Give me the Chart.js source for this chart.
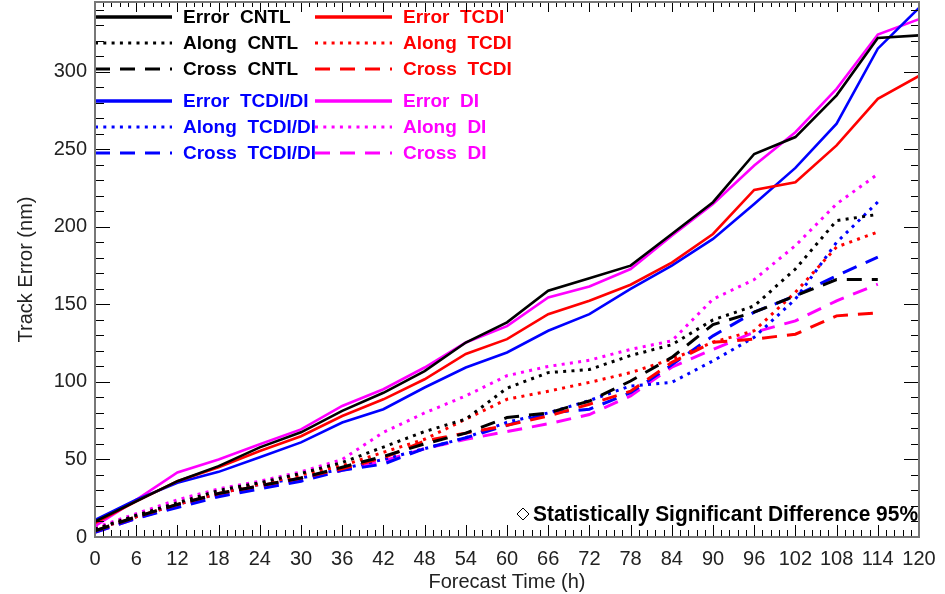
<!DOCTYPE html>
<html>
<head>
<meta charset="utf-8">
<script src="https://cdn.jsdelivr.net/npm/chart.js@4.4.0/dist/chart.umd.min.js"></script>
<style>
  html, body { margin: 0; padding: 0; background: #fff; }
  #wrap { width: 945px; height: 594px; }
</style>
</head>
<body>
<div id="wrap"><canvas id="trackChart" width="945" height="594"></canvas></div>
<script>
// forecast hours (h)
const hours = [0, 6, 12, 18, 24, 30, 36, 42, 48, 54, 60, 66, 72, 78, 84, 90, 96, 102, 108, 114, 120];

// track error (nm), 0-120 h
const errorCNTL   = [10, 23, 36, 45.7, 57.8, 67.5, 81.3, 93, 107, 125.4, 138.4, 158.8, 166.8, 175, 195.4, 215.9, 247, 257.9, 284.8, 321.8, 323.5];
const errorTCDI   = [9, 23, 36, 45, 55.4, 65, 78, 88.8, 101.7, 118, 127.6, 143.7, 152.3, 162.7, 177, 195.4, 223.8, 228.8, 252.5, 282.6, 297.3];
const errorTCDIDI = [11, 24, 35, 42, 51.4, 61, 73.8, 82.4, 96.4, 109.3, 119, 133, 143.7, 160, 175, 192.2, 214.8, 238, 266.5, 314.9, 341.2];
const errorDI     = [7, 24, 41.6, 50, 59.8, 69.4, 84.5, 95.3, 109.3, 125.4, 136, 154.5, 161.6, 172.8, 194.3, 214.8, 239.5, 261, 289, 324, 333.9];

// along-track error (nm), 0-114 h
const alongCNTL   = [5, 14, 22, 30, 35, 41, 48, 58, 68, 76, 96, 106, 108, 117, 124, 140, 149, 172.8, 204, 208];
const alongTCDI   = [5, 13, 21, 28, 34, 40, 46, 54.6, 63, 76, 88.8, 94, 99.7, 106, 114.7, 125.6, 133, 157.8, 187, 196.7];
const alongTCDIDI = [5, 13, 21, 28, 34, 38, 44, 50, 57, 64, 74, 80, 88, 97.4, 99.7, 113.6, 128.8, 153.4, 190, 216];
const alongDI     = [6, 15, 24, 31, 36, 42, 50, 67.5, 80, 91, 104, 110, 114, 121, 126.5, 153.4, 166, 187.9, 214.8, 234];

// cross-track error (nm), 0-114 h
const crossCNTL   = [4, 13, 21, 28, 33, 38, 45, 52, 60, 67, 77, 80, 87.7, 100.6, 115.8, 137, 145, 155.5, 166, 166];
const crossTCDI   = [4, 13, 21, 28, 33, 38, 44, 51, 62, 67, 72, 78, 85.6, 94, 112.6, 125.6, 127.6, 130.8, 142.6, 144.6];
const crossTCDIDI = [3, 12, 19, 26, 31, 36, 43, 47, 57, 64, 72, 80, 82.4, 93, 111, 129.7, 145, 155.5, 168.5, 180.5];
const crossDI     = [3, 12, 20, 27, 32, 37, 43, 49, 57, 63, 68, 73, 79, 91, 109.5, 121, 132, 139.4, 152.3, 163];

const seriesLabels = [
    'Error CNTL', 'Along CNTL', 'Cross CNTL',
    'Error TCDI', 'Along TCDI', 'Cross TCDI',
    'Error TCDI/DI', 'Along TCDI/DI', 'Cross TCDI/DI',
    'Error DI', 'Along DI', 'Cross DI'
];
const seriesValues = [
    errorCNTL, alongCNTL, crossCNTL,
    errorTCDI, alongTCDI, crossTCDI,
    errorTCDIDI, alongTCDIDI, crossTCDIDI,
    errorDI, alongDI, crossDI
];
const noteText = 'Statistically Significant Difference 95%';

const colors = ['#000000', '#ff0000', '#0000ff', '#ff00ff'];
const dashes = [[], [3, 5.3], [15, 10]];

function toPoints(values) {
    return values.map((v, i) => ({ x: hours[i], y: v }));
}

const datasets = seriesValues.map((values, i) => ({
    label: seriesLabels[i],
    data: toPoints(values),
    borderColor: colors[Math.floor(i / 3)],
    borderDash: dashes[i % 3],
    borderWidth: i % 3 === 0 ? 2.6 : 3,
    pointRadius: 0,
    tension: 0,
    fill: false
}));

// box with inward ticks on all four sides (IDL style)
function drawFrame(chart) {
    const ctx = chart.ctx;
    const area = chart.chartArea;
    const xs = chart.scales.x;
    const ys = chart.scales.y;
    ctx.save();
    ctx.setLineDash([]);
    ctx.strokeStyle = '#000';
    ctx.lineWidth = 1;
    ctx.beginPath();
    for (let i = 0; i <= 100; i++) {
        const px = Math.round(xs.getPixelForValue(i * 1.2)) + 0.5;
        const major = i % 5 === 0;
        ctx.moveTo(px, area.bottom);
        ctx.lineTo(px, area.bottom - (major ? 12 : 7));
        ctx.moveTo(px, area.top);
        ctx.lineTo(px, area.top + (major ? 10 : 5));
    }
    for (let v = 0; v <= ys.max; v += 10) {
        const py = Math.round(ys.getPixelForValue(v)) + 0.5;
        const major = v % 50 === 0;
        ctx.moveTo(area.left, py);
        ctx.lineTo(area.left + (major ? 15 : 9), py);
        ctx.moveTo(area.right, py);
        ctx.lineTo(area.right - (major ? 15 : 8), py);
    }
    ctx.stroke();
    ctx.strokeStyle = '#777';
    ctx.lineWidth = 2;
    ctx.strokeRect(area.left, area.top, area.right - area.left, area.bottom - area.top);
    ctx.restore();
}

function drawLegend(chart) {
    const ctx = chart.ctx;
    ctx.save();
    ctx.font = 'bold 19px "Liberation Sans", Arial, sans-serif';
    ctx.textBaseline = 'middle';
    const rowY = [17, 43, 69, 101, 127, 153];
    const cols = [[95, 172, 183, 137], [315, 392, 403, 118]];
    chart.data.datasets.forEach((ds, i) => {
        const group = Math.floor(i / 3);
        const col = cols[group % 2];
        const y = rowY[(group < 2 ? 0 : 3) + i % 3];
        ctx.strokeStyle = ds.borderColor;
        ctx.lineWidth = i % 3 === 0 ? 3.5 : 3;
        ctx.setLineDash(ds.borderDash);
        ctx.beginPath();
        ctx.moveTo(col[0], y);
        ctx.lineTo(col[1], y);
        ctx.stroke();
        ctx.fillStyle = ds.borderColor;
        ctx.fillText(ds.label.replace(' ', '  '), col[2], y + 1, col[3]);
    });
    ctx.setLineDash([]);

    // significance note
    ctx.fillStyle = '#000';
    ctx.textAlign = 'right';
    ctx.font = 'bold 22px "Liberation Sans", Arial, sans-serif';
    ctx.fillText(noteText, 918, 515, 385);
    ctx.strokeStyle = '#000';
    ctx.lineWidth = 1;
    ctx.beginPath();
    ctx.moveTo(523, 508);
    ctx.lineTo(529, 514);
    ctx.lineTo(523, 520);
    ctx.lineTo(517, 514);
    ctx.closePath();
    ctx.stroke();
    ctx.restore();
}

const framePlugin = {
    id: 'frame',
    afterDraw(chart) {
        drawLegend(chart);
        drawFrame(chart);
    }
};

const tickFont = { family: '"Liberation Sans", Arial, sans-serif', size: 20 };

new Chart(document.getElementById('trackChart'), {
    type: 'line',
    data: { datasets },
    plugins: [framePlugin],
    options: {
        responsive: false,
        animation: false,
        layout: { padding: { top: 2, right: 26, left: 0, bottom: 0 } },
        plugins: {
            legend: { display: false },
            tooltip: { enabled: false }
        },
        scales: {
            x: {
                type: 'linear',
                min: 0,
                max: 120,
                grid: { display: false, drawTicks: false },
                border: { display: false },
                ticks: {
                    stepSize: 6,
                    autoSkip: false,
                    maxRotation: 0,
                    padding: 10,
                    color: '#222',
                    font: tickFont
                },
                title: {
                    display: true,
                    text: 'Forecast Time (h)',
                    color: '#222',
                    font: tickFont,
                    padding: { top: 0, bottom: 0 }
                },
                afterFit(scale) {
                    scale.height = 57;
                    scale.paddingLeft = 0;
                    scale.paddingRight = 0;
                }
            },
            y: {
                type: 'linear',
                min: 0,
                max: 345,
                grid: { display: false, drawTicks: false },
                border: { display: false },
                ticks: {
                    stepSize: 50,
                    padding: 8,
                    color: '#222',
                    font: tickFont
                },
                afterBuildTicks(scale) {
                    scale.ticks = scale.ticks.filter(t => t.value % 50 === 0);
                },
                title: {
                    display: true,
                    text: 'Track Error (nm)',
                    color: '#222',
                    font: tickFont,
                    padding: { top: 14, bottom: 0 }
                },
                afterFit(scale) {
                    scale.width = 95;
                    scale.paddingTop = 0;
                    scale.paddingBottom = 0;
                }
            }
        }
    }
});
</script>
</body>
</html>
